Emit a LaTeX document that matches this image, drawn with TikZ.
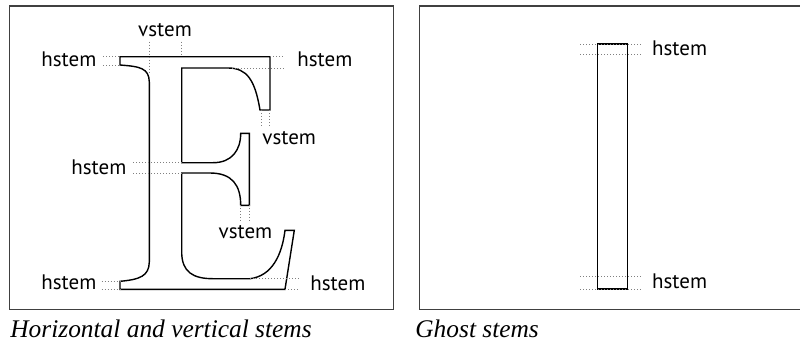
\documentclass[tikz,border=0pt]{standalone}
\usepackage{fontspec}
\setmainfont{Liberation Serif}
\setsansfont{PT Sans}
\usepackage{tikz}

\begin{document}
\begin{tikzpicture}[x=0.5pt, y=-0.5pt,
    frame/.style={draw=black!75, line width=0.8pt},
    glyph/.style={draw=black, line width=0.7pt, line join=miter},
    guide/.style={draw=black!50, line width=0.45pt, dash pattern=on 0.5pt off 1pt},
    lbl/.style={inner sep=0pt, font=\sffamily\fontsize{10.5}{12}\selectfont},
    caption/.style={inner sep=0pt, anchor=base west, font=\itshape\fontsize{12.7}{14}\selectfont}]
    \useasboundingbox (0,0) rectangle (800,344);
    \clip (0,0) rectangle (800,344);
    % frames
    \draw[frame] (9.5,5.7) rectangle (393.3,309.5);
    \draw[frame] (419.3,5.7) rectangle (806,309.5);
    % the E
    \draw[glyph] (120,56.7) -- (270,56.7) -- (270,110) -- (260,110)
        .. controls (255,80) and (247,68) .. (228,68) -- (181.7,68) -- (181.7,162.7) -- (213,162.7)
        .. controls (232,162.7) and (240.7,150) .. (240.7,133.3) -- (249.3,133.3) -- (249.3,205.3) -- (240.7,205.3)
        .. controls (240.7,185) and (232,173) .. (210,173) -- (181.7,173) -- (181.7,252)
        .. controls (181.7,272) and (193,278.7) .. (213,278.7) -- (250,278.7)
        .. controls (272,276) and (282,255) .. (285,230.3) -- (294.3,230.3) -- (285,289.3) -- (120,289.3) -- (120,281.3)
        .. controls (140,279.5) and (149,276) .. (149.3,262) -- (149.3,82)
        .. controls (149,68) and (140,66.5) .. (120,65) -- cycle;
    % stem guides
    \draw[guide] (103,56.7) -- (120,56.7) (103,65) -- (120,65);
    \draw[guide] (149.3,41.7) -- (149.3,73) (181.7,41.7) -- (181.7,56.7);
    \draw[guide] (270,56.7) -- (284,56.7) (232,68) -- (284,68);
    \draw[guide] (261,110) -- (261,126.7) (269.3,110) -- (269.3,126.7);
    \draw[guide] (133.3,162.7) -- (181.7,162.7) (133.3,173) -- (181.7,173);
    \draw[guide] (240.7,205.3) -- (240.7,222) (249.3,205.3) -- (249.3,222);
    \draw[guide] (101.7,281.3) -- (120,281.3) (101.7,289.3) -- (120,289.3);
    \draw[guide] (250,278.7) -- (300,278.7) (285,289.3) -- (300,289.3);
    \node[lbl, anchor=base east] (hTL) at (96.7,66) {hstem};
    \node[lbl, anchor=base] (vT) at (165,36) {vstem};
    \node[lbl, anchor=base west] (hTR) at (297,66) {hstem};
    \node[lbl, anchor=base west] (vR) at (262,144) {vstem};
    \node[lbl, anchor=base east] (hM) at (126.7,174) {hstem};
    \node[lbl, anchor=base west] (vM) at (218.3,238.7) {vstem};
    \node[lbl, anchor=base east] (hBL) at (96.7,289.3) {hstem};
    \node[lbl, anchor=base west] (hBR) at (310,290.3) {hstem};
    % ghost stems
    \draw[glyph] (597.3,44) rectangle (627.3,289);
    \draw[guide] (580,44) -- (641.7,44) (580,54) -- (641.7,54);
    \draw[guide] (580,276.7) -- (641.7,276.7) (580,289) -- (641.7,289);
    \node[lbl, anchor=base west] (gTop) at (651.7,55) {hstem};
    \node[lbl, anchor=base west] (gBot) at (651.7,288.3) {hstem};
    % captions
    \node[caption] (capL) at (10,337.3) {Horizontal and vertical stems};
    \node[caption] (capR) at (415,337.7) {Ghost stems};
\end{tikzpicture}
\end{document}
